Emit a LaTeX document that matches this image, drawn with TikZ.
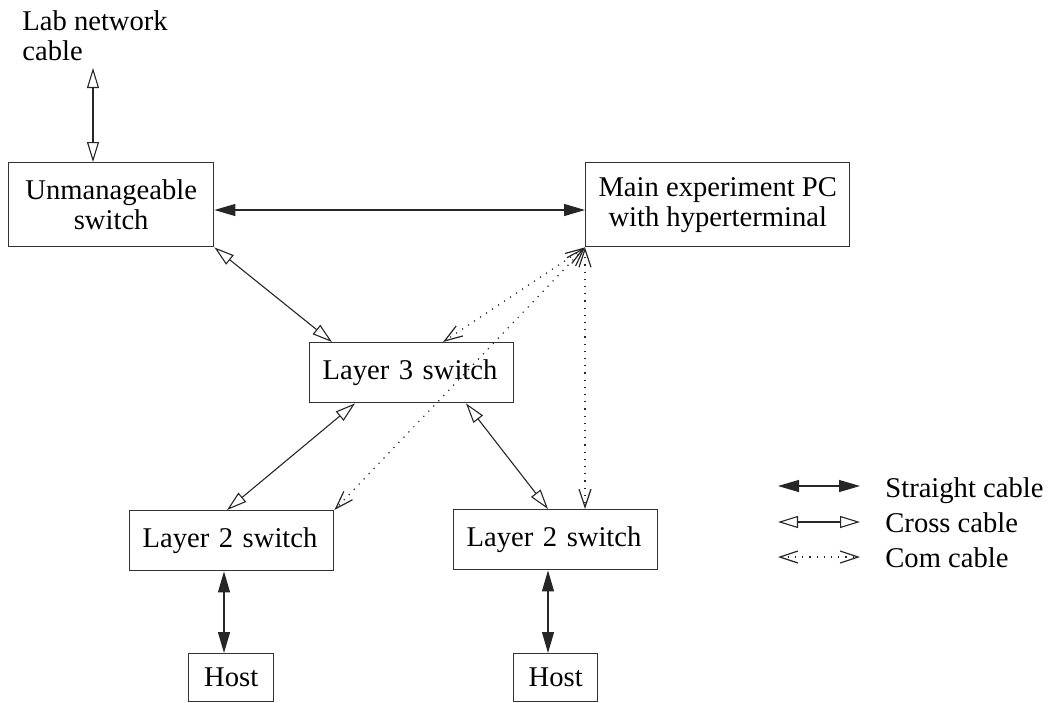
\documentclass[tikz,border=0pt]{standalone}
\usepackage{fontspec}
\setmainfont{Liberation Serif}
\usetikzlibrary{arrows.meta,calc}
\begin{document}
\begin{tikzpicture}[x=0.5pt,y=-0.5pt,
  every node/.style={font=\fontsize{14.3pt}{15pt}\selectfont},
  box/.style={draw, black!80, text=black, line width=0.7pt, inner sep=0pt, anchor=north west},
  lbox/.style={box, align=left, text width=89pt, inner xsep=6.5pt, minimum height=30pt},
  straight/.style={line width=0.6pt, black!85,
    {Triangle[length=10.5pt,width=6pt]}-{Triangle[length=10.5pt,width=6pt]}},
  cross/.style={line width=0.55pt, black!85,
    {Triangle[open,length=10pt,width=6pt]}-{Triangle[open,length=10pt,width=6pt]}},
  com/.style={line width=0.6pt, black!85, dash pattern=on 0.6pt off 3pt,
    {Straight Barb[length=9pt,width=6pt]}-{Straight Barb[length=9pt,width=6pt]}},
  legtext/.style={anchor=base west, inner sep=0pt}]
\useasboundingbox (0,0) rectangle (1048,702);

% switches, PC and hosts
\node[box, align=center, minimum width=102.5pt, minimum height=42pt] (um) at (8,162) {Unmanageable\\switch};
\node[box, align=center, minimum width=132pt, minimum height=42pt] (pc) at (585,162) {Main experiment PC\\with hyperterminal};
\node[lbox] (l3) at (309,342) {Layer 3 switch};
\node[lbox] (l2a) at (129,510) {Layer 2 switch};
\node[lbox] (l2b) at (453,509) {Layer 2 switch};
\node[box, minimum width=42.5pt, minimum height=24pt] (h1) at (188,653) {Host};
\node[box, minimum width=42pt, minimum height=24pt] (h2) at (513,653) {Host};

% uplink to the lab network
\node[anchor=north west, align=left, inner sep=0pt] (lab) at (22,10) {Lab network\\cable};
\coordinate (labend) at (93,68);
\draw[cross] (labend) -- ($(um.north west)+(85,0)$);

% straight cables
\draw[straight] ($(um.north east)+(0,48)$) -- ($(pc.north west)+(0,48)$);
\draw[straight] ($(l2a.south west)+(95,0)$) -- ($(h1.north west)+(36,0)$);
\draw[straight] ($(l2b.south west)+(95,0)$) -- ($(h2.north west)+(35,0)$);

% cross cables
\draw[cross] (um.south east) -- ($(l3.north west)+(23,0)$);
\draw[cross] ($(l3.south west)+(46,0)$) -- ($(l2a.north west)+(98,0)$);
\draw[cross] ($(l3.south west)+(157,0)$) -- ($(l2b.north west)+(95,0)$);

% console (com) cables
\draw[com] (pc.south west) -- ($(l3.north west)+(134,0)$);
\draw[com] (pc.south west) -- (l2a.north east);
\draw[com] (pc.south west) -- ($(l2b.north west)+(132,0)$);

% legend
\coordinate (s1) at (778,486); \coordinate (s2) at (860,486);
\coordinate (c1) at (778,522); \coordinate (c2) at (860,522);
\coordinate (m1) at (778,557); \coordinate (m2) at (860,557);
\draw[straight] (s1) -- (s2);
\draw[cross] (c1) -- (c2);
\draw[com] (m1) -- (m2);
\node[legtext] (ls) at (885,497) {Straight cable};
\node[legtext] (lc) at (885,532) {Cross cable};
\node[legtext] (lm) at (885,567) {Com cable};
\end{tikzpicture}
\end{document}
